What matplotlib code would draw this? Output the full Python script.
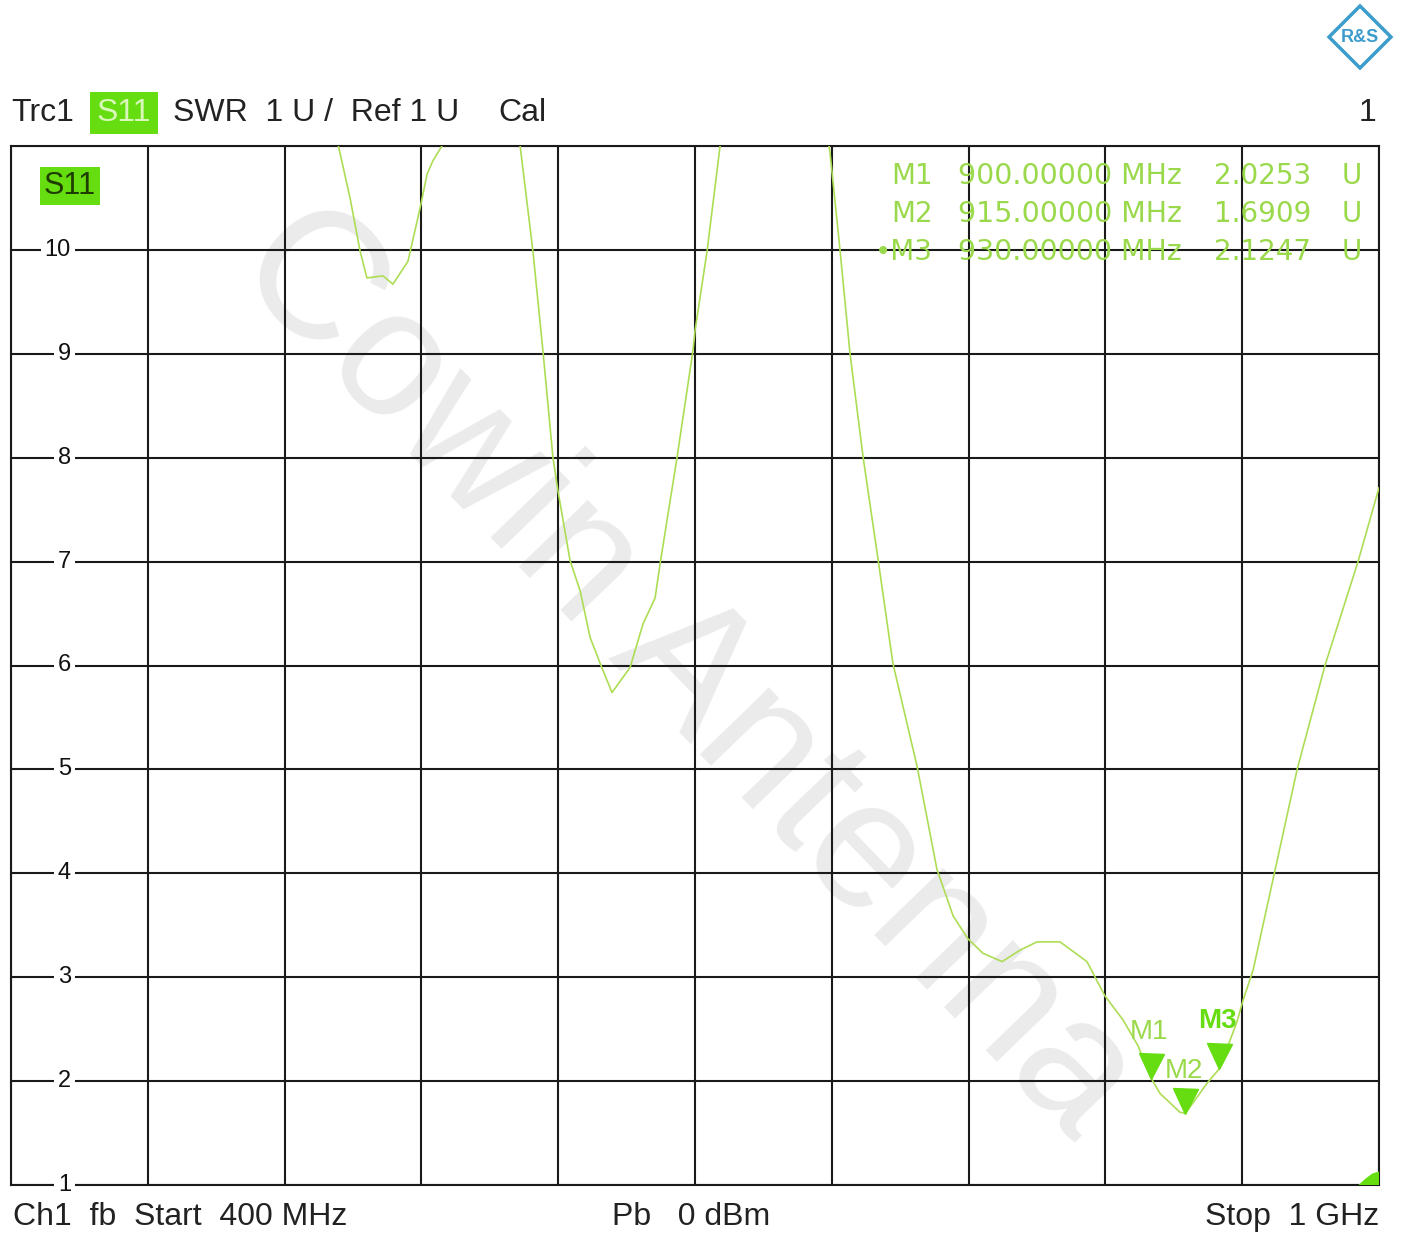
import numpy as np
import matplotlib
matplotlib.use("Agg")
import matplotlib.pyplot as plt
from matplotlib import transforms
from matplotlib.patches import Polygon

# ---------------- data ----------------
# S11 SWR trace (MHz, SWR); NaN separates stretches that leave the top of the screen
freq_mhz = [
    540.5, 543.4, 548.7, 553.1, 556.1, 563.2, 567.5, 574.1, 579.4, 582.5, 585.1, 589.0, 591.0,
    np.nan,
    621.5, 623.2, 628.9, 633.3, 637.7, 639.9, 645.2, 649.6, 654.0, 658.4, 663.6, 671.5, 677.2,
    682.5, 684.7, 692.1, 699.1, 700.0, 705.3, 711.0, 712.5,
    np.nan,
    758.0, 759.2, 763.6, 768.0, 773.7, 780.3, 786.8, 797.4, 806.1, 813.2, 819.7, 826.3, 834.7,
    842.5, 850.0, 860.1, 871.9, 879.8, 887.7, 894.3, 900.0, 904.0, 912.7, 915.0, 917.1, 924.6,
    930.0, 937.7, 940.4, 944.8, 964.1, 976.3, 990.8, 1000.0,
]
swr = [
    11.35, 11.02, 10.50, 9.99, 9.73, 9.75, 9.67, 9.89, 10.40, 10.73, 10.86, 11.0, 11.2,
    np.nan,
    11.3, 11.02, 9.99, 9.03, 8.0, 7.68, 7.01, 6.72, 6.27, 6.02, 5.74, 5.98, 6.40,
    6.65, 6.98, 8.0, 9.03, 9.22, 9.99, 11.0, 11.2,
    np.nan,
    11.1, 10.94, 10.0, 9.0, 8.01, 7.02, 6.02, 5.03, 4.04, 3.59, 3.37, 3.23, 3.15,
    3.26, 3.34, 3.34, 3.15, 2.82, 2.59, 2.34, 2.03, 1.88, 1.70, 1.69, 1.75, 1.98,
    2.12, 2.57, 2.78, 3.07, 5.0, 6.0, 7.0, 7.71,
]

marker_names = ["M1", "M2", "M3"]
marker_freq = [900.0, 915.0, 930.0]
marker_swr = [2.0253, 1.6909, 2.1247]
marker_freq_text = ["900.00000", "915.00000", "930.00000"]
marker_swr_text = ["2.0253", "1.6909", "2.1247"]

y_ticks = [1, 2, 3, 4, 5, 6, 7, 8, 9, 10]
f_start, f_stop = 400.0, 1000.0
y_min, y_max = 1.0, 11.0

# ---------------- style ----------------
W, H = 1401, 1236
DPI = 100
GREEN = "#66dd11"
TRACE = "#addd55"
TABLE = "#9bd94c"
GRID = "#1a1a1a"
TXT = "#222222"

REG = ["Liberation Sans", "DejaVu Sans"]
WIDE = ["DejaVu Sans"]

fig = plt.figure(figsize=(W / DPI, H / DPI), dpi=DPI)
fig.patch.set_facecolor("white")

L, R, T, B = 11, 1379, 146, 1185
ax = fig.add_axes([L / W, 1 - B / H, (R - L) / W, (B - T) / H])
ax.set_xlim(f_start, f_stop)
ax.set_ylim(y_min, y_max)
ax.set_facecolor("white")

# grid
for fx in np.linspace(f_start, f_stop, 11):
    ax.axvline(fx, color=GRID, lw=1.5, zorder=1)
for yv in np.arange(y_min, y_max + 0.5, 1.0):
    ax.axhline(yv, color=GRID, lw=1.5, zorder=1)
for s in ax.spines.values():
    s.set_color(GRID)
    s.set_linewidth(1.5)
ax.set_xticks([])
ax.set_yticks([])

# watermark (below grid)
ax.text(0.490, 0.456, "Cowin Antenna", transform=fig.transFigure, rotation=-46,
        rotation_mode="anchor", ha="center", va="center", fontsize=130,
        color="#ebebeb", family=REG, zorder=0.5)

# y labels breaking the grid lines
lab_tr = transforms.blended_transform_factory(fig.transFigure, ax.transData)
for yv in y_ticks:
    ax.text(71 / W, yv, str(yv), transform=lab_tr, ha="right", va="center",
            fontsize=17, family=REG, color="#111111", zorder=3,
            bbox=dict(boxstyle="square,pad=0.15", fc="white", ec="none"))

# trace
ax.plot(freq_mhz, swr, color=TRACE, lw=1.2, zorder=4, clip_on=True)

# marker triangles, apex on the trace
tri_tr = transforms.offset_copy(ax.transData, fig=fig, x=0, y=12, units="dots")
ax.plot(marker_freq, marker_swr, linestyle="none", marker="v", markersize=18,
        color=GREEN, markeredgecolor=GREEN, transform=tri_tr, zorder=5)
label_off = [(-2, 46), (-1, 42), (-2, 47)]
for name, fx, yv, off in zip(marker_names, marker_freq, marker_swr, label_off):
    ax.annotate(name, (fx, yv), xytext=off, textcoords="offset pixels",
                ha="center", va="center", fontsize=20, family=REG,
                color=(GREEN if name == "M3" else TABLE),
                fontweight=("bold" if name == "M3" else "normal"), zorder=6)

# marker table
row_y = [176, 214, 252]
for name, ft, vt, py in zip(marker_names, marker_freq_text, marker_swr_text, row_y):
    yy = 1 - py / H
    fig.text(933 / W, yy, ("\u2022" if name == "M3" else "") + name, ha="right", va="center",
             fontsize=20, family=WIDE, color=TABLE)
    fig.text(958 / W, yy, ft + " MHz", ha="left", va="center", fontsize=20.5, family=WIDE, color=TABLE)
    fig.text(1311 / W, yy, vt, ha="right", va="center", fontsize=20, family=WIDE, color=TABLE)
    fig.text(1352 / W, yy, "U", ha="center", va="center", fontsize=20, family=WIDE, color=TABLE)

# S11 label inside screen
fig.text(70 / W, 1 - 186 / H, "S11", ha="center", va="center", fontsize=22, family=REG,
         color="#1f3d00", bbox=dict(boxstyle="square,pad=0.12", fc=GREEN, ec="none"))

# header line
hy = 1 - 113 / H
HF = 23
fig.text(11 / W, hy, "Trc1", ha="left", va="center", fontsize=HF, family=REG, color=TXT)
fig.text(124 / W, hy, "S11", ha="center", va="center", fontsize=HF, family=REG, color="#d8f7b8",
         bbox=dict(boxstyle="square,pad=0.2", fc=GREEN, ec="none"))
fig.text(173 / W, hy, "SWR  1 U /  Ref 1 U", ha="left", va="center", fontsize=HF, family=REG, color=TXT)
fig.text(498 / W, hy, "Cal", ha="left", va="center", fontsize=HF, family=REG, color=TXT)
fig.text(1376 / W, hy, "1", ha="right", va="center", fontsize=HF, family=REG, color=TXT)

# footer line
fy = 1 - 1217 / H
fig.text(13 / W, fy, "Ch1  fb  Start  400 MHz", ha="left", va="center", fontsize=HF, family=REG, color=TXT)
fig.text(612 / W, fy, "Pb   0 dBm", ha="left", va="center", fontsize=HF, family=REG, color=TXT)
fig.text(1379 / W, fy, "Stop  1 GHz", ha="right", va="center", fontsize=HF, family=REG, color=TXT)

# reference level wedge at bottom-right
wedge = Polygon([[0.985, 0.0], [1.0, 0.0], [1.0, 0.013], [0.995, 0.011], [0.99, 0.006]],
                closed=True, transform=ax.transAxes, fc=GREEN, ec="none", zorder=6, clip_on=False)
ax.add_patch(wedge)

# R&S logo (diamond)
cx, cy, r = 1360 / W, 1 - 37 / H, 31
dx, dy = r / W, r / H
logo = Polygon([[cx, cy + dy], [cx + dx, cy], [cx, cy - dy], [cx - dx, cy]], closed=True,
               transform=fig.transFigure, fc="white", ec="#3c9ccc", lw=2.5)
fig.patches.append(logo)
fig.text(cx, cy, "R&S", ha="center", va="center", fontsize=13, fontweight="bold",
         color="#3c9ccc", family=REG)

fig.savefig("out.png", dpi=DPI, facecolor="white")
